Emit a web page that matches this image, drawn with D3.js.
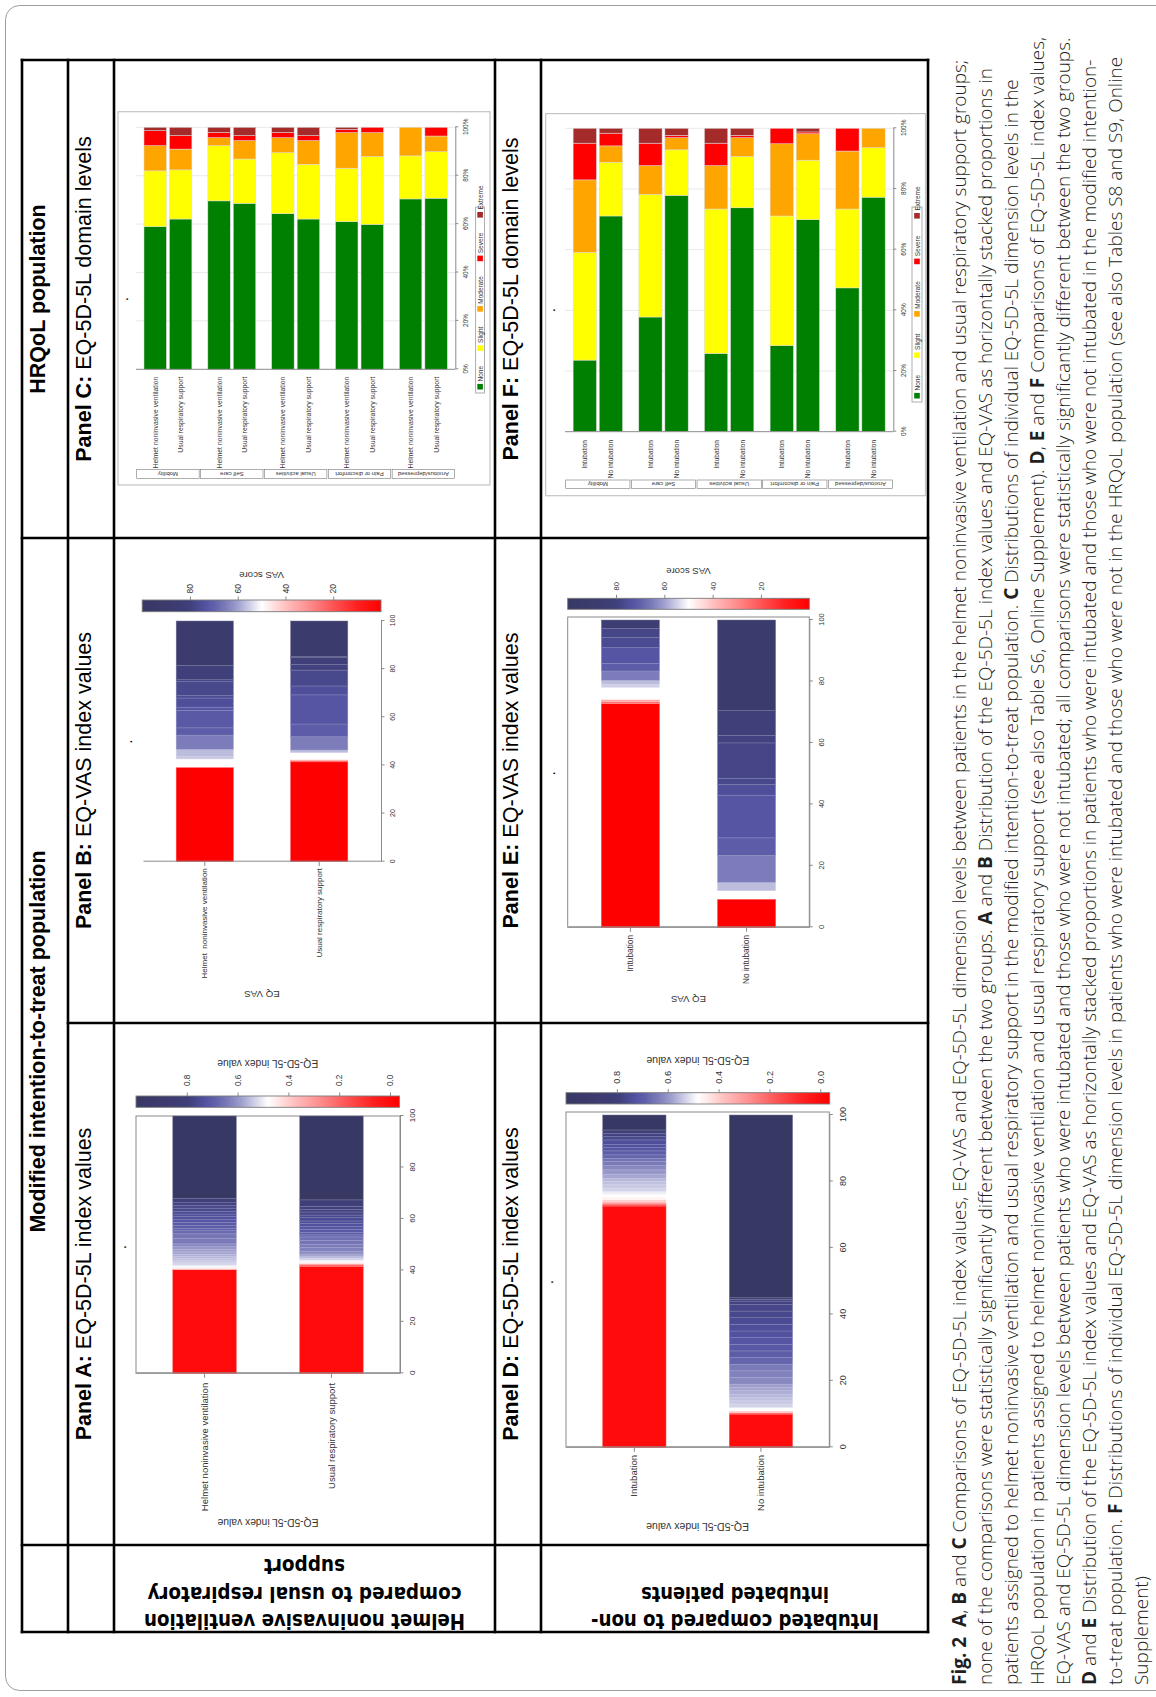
<!DOCTYPE html>
<html>
<head>
<meta charset="utf-8">
<script src="https://cdn.jsdelivr.net/npm/d3@7/dist/d3.min.js"></script>
<style>
html,body{margin:0;padding:0;background:#fff;}
svg{display:block;}
text{white-space:pre;}
</style>
</head>
<body>
<svg id="fig" width="1156" height="1697" xmlns="http://www.w3.org/2000/svg"></svg>
<script>
// ================= DATA =================
const ittGroups = ["Helmet noninvasive ventilation", "Usual respiratory support"];
const intubGroups = ["Intubation", "No intubation"];
const domains = ["Mobility", "Self care", "Usual activities", "Pain or discomfort", "Anxious/depressed"];
const levels = ["None", "Slight", "Moderate", "Severe", "Extreme"];
const valueTicks = [0, 20, 40, 60, 80, 100];
const eqColourTicks = [0.0, 0.2, 0.4, 0.6, 0.8];
const vasColourTicks = [20, 40, 60, 80];
const eqRange = [-0.037, 1.0];
const vasRange = [0, 100];

// Panel A: EQ-5D-5L index values (mITT) – index value of each slice and % of patients
const eqHelmetValues = [0.00, 0.42, 0.47, 0.50, 0.53, 0.54, 0.55, 0.56, 0.57, 0.58, 0.59, 0.60, 0.62, 0.64, 0.65, 0.67, 0.69, 0.70, 0.71, 0.72, 0.73, 0.74, 0.75, 0.76, 0.77, 0.78, 0.80, 1.00];
const eqHelmetPct    = [40.4, 0.5, 0.6, 0.6, 0.8, 0.8, 0.9, 0.9, 0.8, 0.9, 1.0, 1.0, 1.1, 2.1, 1.8, 1.2, 1.0, 1.1, 1.2, 1.0, 1.2, 1.0, 1.1, 1.2, 1.0, 1.1, 1.7, 32.0];
const eqUsualValues  = [0.00, 0.15, 0.30, 0.46, 0.49, 0.53, 0.56, 0.59, 0.62, 0.63, 0.64, 0.65, 0.66, 0.68, 0.70, 0.71, 0.72, 0.73, 0.74, 0.75, 0.76, 0.77, 0.78, 0.79, 0.81, 1.00];
const eqUsualPct     = [41.5, 0.6, 0.6, 0.6, 0.7, 0.8, 0.8, 0.8, 1.0, 1.5, 1.2, 1.5, 1.4, 0.8, 1.0, 1.2, 1.0, 1.2, 1.0, 1.3, 1.0, 1.2, 1.0, 1.2, 2.5, 32.6];

// Panel D: EQ-5D-5L index values (intubated vs not)
const eqIntubValues   = [0.00, 0.15, 0.30, 0.40, 0.46, 0.48, 0.50, 0.53, 0.54, 0.55, 0.56, 0.58, 0.60, 0.62, 0.64, 0.65, 0.68, 0.70, 0.72, 0.73, 0.74, 0.76, 0.78, 0.80, 1.00];
const eqIntubPct      = [72.6, 0.6, 0.6, 0.7, 0.8, 0.9, 0.8, 1.0, 1.0, 1.0, 1.0, 1.2, 1.3, 1.3, 1.2, 1.0, 1.0, 1.2, 1.0, 1.0, 1.3, 1.0, 1.0, 1.0, 4.5];
const eqNoIntubValues = [0.00, 0.20, 0.40, 0.48, 0.53, 0.54, 0.55, 0.56, 0.57, 0.58, 0.59, 0.62, 0.63, 0.64, 0.68, 0.70, 0.71, 0.72, 0.73, 0.74, 0.75, 0.76, 0.77, 0.78, 0.80, 0.82, 1.00];
const eqNoIntubPct    = [10.0, 0.5, 0.5, 1.0, 1.0, 1.0, 1.0, 1.0, 1.0, 1.0, 1.0, 2.0, 2.0, 2.0, 2.0, 2.0, 2.0, 2.0, 2.0, 2.0, 2.0, 2.0, 2.0, 1.0, 0.5, 0.5, 55.0];

// Panel B: EQ-VAS (mITT) – VAS score of each slice and % of patients
const vasHelmetScores = [0, 50, 56, 57, 65, 71, 72, 73, 75, 76, 77, 78, 80, 90];
const vasHelmetPct    = [39.3, 3.4, 1.0, 3.0, 5.9, 3.0, 7.3, 1.3, 3.8, 1.0, 5.8, 0.8, 6.0, 18.4];
const vasUsualScores  = [0, 20, 35, 50, 57, 65, 71, 73, 75, 77, 79, 80, 85, 90];
const vasUsualPct     = [41.5, 0.5, 0.5, 2.8, 1.1, 5.5, 5.3, 12.1, 3.7, 6.6, 2.4, 2.8, 0.4, 14.8];

// Panel E: EQ-VAS (intubated vs not)
const vasIntubScores   = [0, 25, 35, 50, 55, 57, 65, 71, 73, 76, 78, 85];
const vasIntubPct      = [72.8, 0.7, 0.7, 3.9, 1.0, 1.3, 3.0, 2.5, 5.1, 3.4, 2.9, 2.7];
const vasNoIntubScores = [0, 50, 57, 65, 71, 73, 75, 77, 78, 79, 80, 90];
const vasNoIntubPct    = [9.2, 2.7, 2.7, 8.8, 5.7, 13.9, 3.5, 2.0, 11.5, 2.5, 8.0, 29.5];

// Panel C: EQ-5D-5L domain levels, % per domain (Mobility, Self care, Usual activities, Pain, Anxious)
const cHelmetNone     = [59.0, 69.6, 64.3, 61.0, 70.4];
const cHelmetSlight   = [23.0, 22.8, 25.2, 22.1, 17.8];
const cHelmetModerate = [10.4, 3.3, 6.2, 14.7, 11.8];
const cHelmetSevere   = [6.2, 2.2, 2.2, 1.4, 0.0];
const cHelmetExtreme  = [1.4, 2.1, 2.1, 0.8, 0.0];
const cUsualNone      = [62.1, 68.6, 62.1, 59.9, 70.7];
const cUsualSlight    = [20.3, 18.3, 22.6, 28.0, 19.2];
const cUsualModerate  = [8.6, 7.6, 9.8, 9.9, 6.5];
const cUsualSevere    = [5.6, 2.1, 2.1, 2.2, 3.6];
const cUsualExtreme   = [3.4, 3.4, 3.4, 0.0, 0.0];

// Panel F
const fIntubNone       = [23.6, 37.8, 25.8, 28.4, 47.4];
const fIntubSlight     = [35.5, 40.4, 47.6, 42.7, 26.0];
const fIntubModerate   = [23.9, 9.5, 14.3, 23.8, 19.1];
const fIntubSevere     = [12.1, 7.4, 7.4, 5.1, 7.5];
const fIntubExtreme    = [4.9, 4.9, 4.9, 0.0, 0.0];
const fNoIntubNone     = [71.1, 77.9, 73.8, 69.9, 77.3];
const fNoIntubSlight   = [17.7, 15.0, 16.9, 19.6, 16.3];
const fNoIntubModerate = [5.4, 4.0, 6.2, 8.7, 6.4];
const fNoIntubSevere   = [4.2, 0.8, 0.8, 0.6, 0.0];
const fNoIntubExtreme  = [1.6, 2.3, 2.3, 1.2, 0.0];

const captionLines = [
  "**Fig. 2**  **A**, **B** and **C** Comparisons of EQ-5D-5L index values, EQ-VAS and EQ-5D-5L dimension levels between patients in the helmet noninvasive ventilation and usual respiratory support groups;",
  "none of the comparisons were statistically significantly different between the two groups. **A** and **B** Distribution of the EQ-5D-5L index values and EQ-VAS as horizontally stacked proportions in",
  "patients assigned to helmet noninvasive ventilation and usual respiratory support in the modified intention-to-treat population. **C** Distributions of individual EQ-5D-5L dimension levels in the",
  "HRQoL population in patients assigned to helmet noninvasive ventilation and usual respiratory support (see also Table S6, Online Supplement). **D**, **E** and **F** Comparisons of EQ-5D-5L index values,",
  "EQ-VAS and EQ-5D-5L dimension levels between patients who were intubated and those who were not intubated; all comparisons were statistically significantly different between the two groups.",
  "**D** and **E** Distribution of the EQ-5D-5L index values and EQ-VAS as horizontally stacked proportions in patients who were intubated and those who were not intubated in the modified intention-",
  "to-treat population. **F** Distributions of individual EQ-5D-5L dimension levels in patients who were intubated and those who were not in the HRQoL population (see also Tables S8 and S9, Online",
  "Supplement)"
];

// ================= STYLE =================
const levelColours = ["#008000", "#ffff00", "#ffa500", "#ff0000", "#a52a2a"];
const rampT = [0, 0.1, 0.2, 0.3, 0.4, 0.45, 0.5, 0.55, 0.6, 0.65, 0.7, 0.74, 0.8, 0.9, 1];
const rampC = ["#ff0000","#ff2020","#ff5454","#ff8c8c","#ffc0c0","#ffe0e0","#ffffff","#cfcfe7","#a0a0cf","#7c7cba","#6060aa","#5151a0","#3f3f7a","#3b3b6d","#383865"];
const ramp = d3.scaleLinear().domain(rampT).range(rampC).interpolate(d3.interpolateRgb).clamp(true);
const SANS = "'Liberation Sans', Arial, Helvetica, sans-serif";
const AXIS = "#8a8a8a", INK = "#333";

// ================= FRAME =================
const FIG_H = 1697;
const svg = d3.select("#fig");
svg.append("rect").attr("x", 5.5).attr("y", 5.5).attr("width", 1185).attr("height", 1685)
  .attr("rx", 14).attr("fill", "none").attr("stroke", "#9d9d9d").attr("stroke-width", 1);
const g = svg.append("g").attr("transform", `translate(0,${FIG_H}) rotate(-90)`);

// table
const tbl = g.append("g").attr("stroke", "#000").attr("stroke-width", 2.6).attr("stroke-linecap", "square");
[22, 68, 114, 495, 541, 928].forEach(v => tbl.append("line").attr("x1", 65).attr("x2", 1637).attr("y1", v).attr("y2", v));
[65, 152, 1159, 1637].forEach(u => tbl.append("line").attr("x1", u).attr("x2", u).attr("y1", 22).attr("y2", 928));
tbl.append("line").attr("x1", 674).attr("x2", 674).attr("y1", 68).attr("y2", 928);

function hText(u, v, parts, size, anchor) {
  const t = g.append("text").attr("x", u).attr("y", v).attr("font-family", SANS)
    .attr("font-size", size).attr("text-anchor", anchor || "middle").attr("fill", "#000");
  parts.forEach(p => t.append("tspan").attr("font-weight", p[1] ? 700 : 400).text(p[0]));
  return t;
}
hText(655.5, 45, [["Modified intention-to-treat population", 1]], 21.5);
hText(1398, 45, [["HRQoL population", 1]], 21.5);
hText(413, 91, [["Panel A: ", 1], ["EQ-5D-5L index values", 0]], 21.5);
hText(916.5, 91, [["Panel B: ", 1], ["EQ-VAS index values", 0]], 21.5);
hText(1398, 91, [["Panel C: ", 1], ["EQ-5D-5L domain levels", 0]], 21.5);
hText(413, 518, [["Panel D: ", 1], ["EQ-5D-5L index values", 0]], 21.5);
hText(916.5, 518, [["Panel E: ", 1], ["EQ-VAS index values", 0]], 21.5);
hText(1398, 518, [["Panel F: ", 1], ["EQ-5D-5L domain levels", 0]], 21.5);

// row headers (rotated)
function rowHeader(lines, vc) {
  lines.forEach(l => {
    g.append("text").attr("transform", `translate(${l[1]},${vc}) rotate(-90)`)
      .attr("text-anchor", "middle").attr("font-family", "'Liberation Sans Narrow','DejaVu Sans Condensed',Arial,sans-serif")
      .attr("font-weight", 700).attr("font-size", 22).attr("textLength", l[2]).attr("lengthAdjust", "spacingAndGlyphs")
      .text(l[0]);
  });
}
rowHeader([["Helmet noninvasive ventilation", 83, 321], ["compared to usual respiratory", 110.5, 314], ["support", 138, 81]], 304.5);
rowHeader([["Intubated compared to non-", 83, 288], ["intubated patients", 110.5, 188]], 735);

// ================= DISTRIBUTION PANELS (A, B, D, E) =================
function distPanel(p) {
  const pg = g.append("g").attr("font-family", SANS);
  const x = d3.scaleLinear([0, 100], [p.u0, p.u1]);
  const y = d3.scaleBand(p.groups, [p.vTop, p.vAxis]).paddingInner(0.5).paddingOuter(0.29);
  const cbScale = d3.scaleLinear(p.range, [p.cb.v1, p.cb.v0]);
  const colour = val => ramp((val - p.range[0]) / (p.range[1] - p.range[0]));

  if (p.frame) {
    pg.append("rect").attr("x", p.u0).attr("y", p.vTop).attr("width", p.u1 - p.u0 + (p.frameExtra || 0))
      .attr("height", p.vAxis - p.vTop).attr("fill", "none").attr("stroke", AXIS).attr("stroke-width", 1);
  }
  // bars
  p.series.forEach((s, i) => {
    let cum = 0;
    s.vals.forEach((val, j) => {
      const pct = s.pcts[j];
      const fill = colour(val);
      pg.append("rect").attr("x", x(cum)).attr("y", y(p.groups[i]))
        .attr("width", x(cum + pct) - x(cum)).attr("height", y.bandwidth())
        .attr("fill", fill).attr("stroke", d3.interpolateRgb(fill, "#fff")(0.3)).attr("stroke-width", 0.5);
      cum += pct;
    });
  });
  // value axis
  const ax = pg.append("g").attr("transform", `translate(0,${p.vAxis})`)
    .call(d3.axisBottom(x).tickValues(valueTicks).tickSize(3.5).tickPadding(p.tickPad).tickSizeOuter(0));
  // category axis
  const cy = pg.append("g").attr("transform", `translate(${p.u0},0)`)
    .call(d3.axisLeft(y).tickSize(4.5).tickPadding(p.catPad).tickSizeOuter(0));
  [ax, cy].forEach(a => {
    a.selectAll("path,line").attr("stroke", AXIS);
    a.selectAll("text").attr("fill", INK).attr("font-family", SANS);
  });
  ax.selectAll("text").attr("font-size", p.fsTick);
  cy.selectAll("text").attr("font-size", p.fsCat);
  // axis title (rotated)
  pg.append("text").attr("transform", `translate(${p.yTitleU},${(p.vTop + p.vAxis) / 2}) rotate(-90)`)
    .attr("text-anchor", "middle").attr("dominant-baseline", "central").attr("font-size", p.fsTitle)
    .attr("fill", INK).text(p.axisTitle);
  // colour bar
  const gid = "grad" + p.id;
  const grad = svg.append("defs").append("linearGradient").attr("id", gid)
    .attr("gradientUnits", "userSpaceOnUse").attr("x1", 0).attr("x2", 0).attr("y1", p.cb.v0).attr("y2", p.cb.v1);
  rampT.slice().reverse().forEach(t => grad.append("stop").attr("offset", 1 - t).attr("stop-color", ramp(t)));
  pg.append("rect").attr("x", p.cb.u0).attr("y", p.cb.v0).attr("width", p.cb.u1 - p.cb.u0)
    .attr("height", p.cb.v1 - p.cb.v0).attr("fill", `url(#${gid})`).attr("stroke", "#7a7a7a").attr("stroke-width", 0.9);
  const ca = pg.append("g").attr("transform", `translate(${p.cb.u1},0)`)
    .call(d3.axisRight(cbScale).tickValues(p.cbTicks).tickFormat(p.cbFormat).tickSize(3.5).tickPadding(p.cbPad).tickSizeOuter(0));
  ca.select(".domain").remove();
  ca.selectAll("line").attr("stroke", AXIS);
  ca.selectAll("text").attr("fill", INK).attr("font-family", SANS).attr("font-size", p.fsCb);
  pg.append("text").attr("transform", `translate(${p.cbTitleU},${(p.cb.v0 + p.cb.v1) / 2}) rotate(-90)`)
    .attr("text-anchor", "middle").attr("dominant-baseline", "central").attr("font-size", p.fsTitle)
    .attr("fill", INK).text(p.cbTitle);
  pg.append("text").attr("x", p.dot[0]).attr("y", p.dot[1]).attr("text-anchor", "middle")
    .attr("font-size", 10).attr("font-weight", 700).attr("fill", "#000").text(".");
}

distPanel({ id: "A", groups: ittGroups,
  series: [{ vals: eqHelmetValues, pcts: eqHelmetPct }, { vals: eqUsualValues, pcts: eqUsualPct }],
  u0: 323.7, u1: 581, vTop: 136, vAxis: 400, frame: true, range: eqRange,
  cb: { u0: 589.7, u1: 601, v0: 136, v1: 399.4 }, cbTicks: eqColourTicks, cbFormat: d3.format(".1f"),
  tickPad: 5.5, catPad: 5, cbPad: 6.5, fsTick: 8, fsCat: 9.5, fsTitle: 10.3, fsCb: 8.2,
  axisTitle: "EQ-5D-5L index value", cbTitle: "EQ-5D-5L index value", yTitleU: 175, cbTitleU: 634, dot: [450, 126] });

distPanel({ id: "B", groups: ["Helmet  noninvasive ventilation", "Usual respiratory support"],
  series: [{ vals: vasHelmetScores, pcts: vasHelmetPct }, { vals: vasUsualScores, pcts: vasUsualPct }],
  u0: 835.3, u1: 1076, vTop: 143, vAxis: 381, frame: false, range: vasRange,
  cb: { u0: 1085.3, u1: 1097, v0: 142.2, v1: 381 }, cbTicks: vasColourTicks, cbFormat: d3.format("d"),
  tickPad: 5.7, catPad: 2, cbPad: 3, fsTick: 7, fsCat: 8, fsTitle: 9.7, fsCb: 8.5,
  axisTitle: "EQ VAS", cbTitle: "VAS score", yTitleU: 702.7, cbTitleU: 1122, dot: [955.5, 132] });

distPanel({ id: "D", groups: intubGroups,
  series: [{ vals: eqIntubValues, pcts: eqIntubPct }, { vals: eqNoIntubValues, pcts: eqNoIntubPct }],
  u0: 249.7, u1: 582, vTop: 566, vAxis: 829.3, frame: true, frameExtra: 3, range: eqRange,
  cb: { u0: 593, u1: 604.3, v0: 566, v1: 829.7 }, cbTicks: eqColourTicks, cbFormat: d3.format(".1f"),
  tickPad: 6.7, catPad: 3.2, cbPad: 5.5, fsTick: 9, fsCat: 9.5, fsTitle: 10.5, fsCb: 9.2,
  axisTitle: "EQ-5D-5L index value", cbTitle: "EQ-5D-5L index value", yTitleU: 170, cbTitleU: 636.3, dot: [415, 553] });

distPanel({ id: "E", groups: intubGroups,
  series: [{ vals: vasIntubScores, pcts: vasIntubPct }, { vals: vasNoIntubScores, pcts: vasNoIntubPct }],
  u0: 769.7, u1: 1077, vTop: 567.7, vAxis: 809.3, frame: true, frameExtra: 3, range: vasRange,
  cb: { u0: 1087.7, u1: 1098.7, v0: 567.7, v1: 809.3 }, cbTicks: vasColourTicks, cbFormat: d3.format("d"),
  tickPad: 6.2, catPad: 3.2, cbPad: 4.3, fsTick: 7.5, fsCat: 8.3, fsTitle: 9.6, fsCb: 7.6,
  axisTitle: "EQ VAS", cbTitle: "VAS score", yTitleU: 698, cbTitleU: 1125.3, dot: [923.7, 555] });

// ================= DOMAIN-LEVEL PANELS (C, F) =================
function likertPanel(p) {
  const pg = g.append("g").attr("font-family", SANS);
  pg.append("rect").attr("x", p.frame[0]).attr("y", p.frame[2]).attr("width", p.frame[1] - p.frame[0])
    .attr("height", p.frame[3] - p.frame[2]).attr("fill", "none").attr("stroke", "#c4c4c4").attr("stroke-width", 1.2);
  const x = d3.scaleLinear([0, 100], [p.u0, p.u1]);
  const gy = d3.scaleBand(domains, [p.vTop, p.vBot]).paddingInner(p.pi).paddingOuter(p.pi / 2);
  const iy = d3.scaleBand(p.groups, [0, gy.bandwidth()]).paddingInner(p.ipi);
  // grid
  pg.selectAll(".grid").data(valueTicks.slice(1)).join("line")
    .attr("x1", d => x(d)).attr("x2", d => x(d)).attr("y1", p.vTop).attr("y2", p.vBot)
    .attr("stroke", "#e9e9e9").attr("stroke-width", 1);
  // bars
  domains.forEach((dom, di) => {
    p.groups.forEach((grp, gi) => {
      let cum = 0;
      const v = gy(dom) + iy(grp);
      levels.forEach((lv, li) => {
        const val = p.data[gi][li][di];
        if (val > 0) {
          pg.append("rect").attr("x", x(cum)).attr("y", v).attr("width", x(cum + val) - x(cum))
            .attr("height", iy.bandwidth()).attr("fill", levelColours[li])
            .attr("stroke", "#dcdcdc").attr("stroke-width", 0.5);
        }
        cum += val;
      });
      pg.append("text").attr("x", x(0) - p.labGap).attr("y", v + iy.bandwidth() / 2)
        .attr("text-anchor", "end").attr("dominant-baseline", "central").attr("font-size", p.fsCat)
        .attr("fill", INK).text(grp);
    });
    // strip
    const s0 = p.vTop + di * gy.step() + 0.7, s1 = p.vTop + (di + 1) * gy.step() - 0.7;
    pg.append("rect").attr("x", p.strip[0]).attr("y", s0).attr("width", p.strip[1] - p.strip[0]).attr("height", s1 - s0)
      .attr("fill", "#fff").attr("stroke", "#777").attr("stroke-width", 0.6);
    pg.append("text").attr("transform", `translate(${(p.strip[0] + p.strip[1]) / 2},${(s0 + s1) / 2}) rotate(-90)`)
      .attr("text-anchor", "middle").attr("dominant-baseline", "central").attr("font-size", p.fsStrip)
      .attr("fill", INK).text(dom);
  });
  // axes
  const ax = pg.append("g").attr("transform", `translate(0,${p.vBot})`)
    .call(d3.axisBottom(x).tickValues(valueTicks).tickFormat(d => d + "%").tickSize(3).tickPadding(p.tickPad).tickSizeOuter(0));
  ax.selectAll("path,line").attr("stroke", AXIS);
  ax.selectAll("text").attr("fill", INK).attr("font-family", SANS).attr("font-size", p.fsTick);
  pg.append("line").attr("x1", x(0)).attr("x2", x(0)).attr("y1", p.vTop).attr("y2", p.vBot).attr("stroke", AXIS);
  // legend
  const lg = p.legend;
  pg.append("rect").attr("x", lg.u0).attr("y", lg.v0).attr("width", lg.u1 - lg.u0).attr("height", lg.v1 - lg.v0)
    .attr("fill", "#fff").attr("stroke", "#8a8a8a").attr("stroke-width", 0.7);
  const vc = (lg.v0 + lg.v1) / 2;
  let cu = lg.u0 + 3.5;
  levels.forEach((lv, li) => {
    pg.append("rect").attr("x", cu).attr("y", vc - 2.8).attr("width", 5.6).attr("height", 5.6).attr("fill", levelColours[li]);
    const t = pg.append("text").attr("x", cu + 8).attr("y", vc).attr("dominant-baseline", "central")
      .attr("font-size", p.fsLeg).attr("fill", INK).text(lv);
    cu += 8 + t.node().getComputedTextLength() + lg.gap;
  });
  pg.append("text").attr("x", p.dot[0]).attr("y", p.dot[1]).attr("text-anchor", "middle")
    .attr("font-size", 10).attr("font-weight", 700).attr("fill", "#000").text(".");
}

likertPanel({ groups: ["Helmet noninvasive ventilation", "Usual respiratory support"],
  data: [[cHelmetNone, cHelmetSlight, cHelmetModerate, cHelmetSevere, cHelmetExtreme],
         [cUsualNone, cUsualSlight, cUsualModerate, cUsualSevere, cUsualExtreme]],
  frame: [1212, 1585.3, 118, 490], u0: 1327.7, u1: 1569.7, vTop: 136, vBot: 455.3, pi: 0.25, ipi: 0.12,
  strip: [1218.7, 1227.7], legend: { u0: 1304, u1: 1490, v0: 475.7, v1: 484.5, gap: 15 },
  labGap: 7.4, tickPad: 5.5, fsCat: 6.8, fsTick: 6.5, fsStrip: 6, fsLeg: 6.5, dot: [1398, 128] });

likertPanel({ groups: intubGroups,
  data: [[fIntubNone, fIntubSlight, fIntubModerate, fIntubSevere, fIntubExtreme],
         [fNoIntubNone, fNoIntubSlight, fNoIntubModerate, fNoIntubSevere, fNoIntubExtreme]],
  frame: [1201.3, 1583.4, 545.7, 925.5], u0: 1265.3, u1: 1568.7, vTop: 565, vBot: 893.3, pi: 0.248, ipi: 0.107,
  strip: [1208.7, 1217], legend: { u0: 1295, u1: 1490, v0: 912, v1: 922, gap: 17 },
  labGap: 8.3, tickPad: 5, fsCat: 6.5, fsTick: 6.5, fsStrip: 6, fsLeg: 6.5, dot: [1387, 555] });

// ================= CAPTION =================
const cap = g.append("g").attr("font-family", "'Open Sans','Noto Sans',sans-serif").attr("fill", "#231f20");
const capNodes = captionLines.map((line, i) => {
  const t = cap.append("text").attr("x", 12).attr("y", 966 + i * 26).attr("font-size", 20).attr("font-weight", 300);
  line.split("**").forEach((part, k) => {
    if (part) t.append("tspan").attr("font-weight", k % 2 ? 700 : 300).text(part);
  });
  return t;
});
const targetW = 1626;
const fs = 20 * targetW / capNodes[0].node().getComputedTextLength();
capNodes.forEach(t => t.attr("font-size", fs));
</script>
</body>
</html>
